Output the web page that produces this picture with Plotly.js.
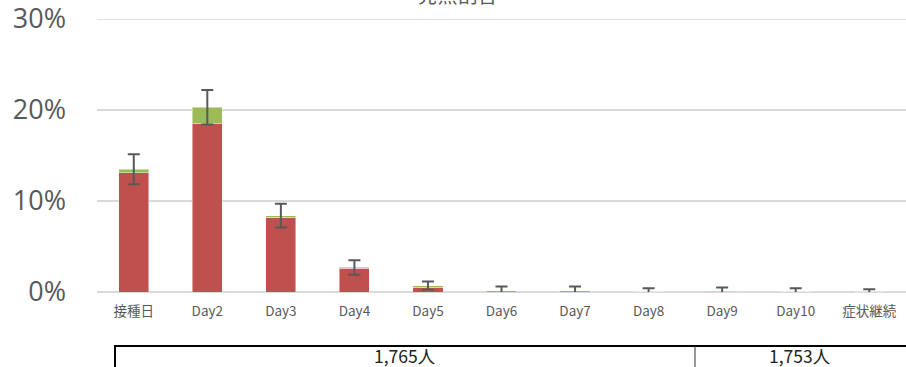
<!DOCTYPE html>
<html><head><meta charset="utf-8">
<script src="https://cdn.plot.ly/plotly-3.0.1.min.js"></script>
<style>html,body{margin:0;padding:0;background:#fff}#c{width:906px;height:367px}</style>
</head><body><div id="c"></div>
<script>
const categories = ["接種日","Day2","Day3","Day4","Day5","Day6","Day7","Day8","Day9","Day10","症状継続"];
const redValues = [0.131, 0.185, 0.082, 0.026, 0.005, 0.000, 0.000, 0.000, 0.001, 0.000, 0.000];
const greenValues = [0.004, 0.018, 0.002, 0.001, 0.002, 0.0015, 0.0015, 0.0005, 0.000, 0.0005, 0.0005];
const errValues = [0.0165, 0.019, 0.013, 0.008, 0.0045, 0.0045, 0.0045, 0.0035, 0.004, 0.0035, 0.0025];
const yTickVals = [0, 0.1, 0.2, 0.3];
const yTickText = ["0%", "10%", "20%", "30%"];
const groupLabels = ["1,765人", "1,753人"];
const titleText = "発熱割合";

const totals = redValues.map((v, i) => v + greenValues[i]);
const plotL = 97, plotR = 906, plotT = 19, plotB = 292;
const px = x => (x - plotL) / (plotR - plotL);
const py = y => (plotB - y) / (plotB - plotT);
const yMax = yTickVals[yTickVals.length - 1];

const traces = [
  {type:"bar", x:categories, y:redValues, marker:{color:"#C0504D", line:{color:"rgba(255,255,255,0.45)", width:1}}, width:0.41, hoverinfo:"skip"},
  {type:"bar", x:categories, y:greenValues, marker:{color:"#9BBB59", line:{color:"rgba(255,255,255,0.45)", width:1}}, width:0.41, hoverinfo:"skip"},
  {type:"scatter", mode:"markers", x:categories, y:totals, marker:{opacity:0, size:1},
   error_y:{type:"data", array:errValues, visible:true, color:"#595959", thickness:2, width:6}, hoverinfo:"skip"}
];

const layout = {
  width:906, height:367,
  margin:{l:plotL, r:906-plotR, t:plotT, b:367-plotB},
  barmode:"stack", showlegend:false,
  paper_bgcolor:"#fff", plot_bgcolor:"#fff",
  title:{text:titleText, font:{family:"Noto Sans CJK JP", size:20, color:"#595959"}, xref:"container", x:0.505, xanchor:"center", yref:"container", y:0.993, yanchor:"bottom"},
  xaxis:{type:"category", range:[-0.5, categories.length - 0.5], autorange:false, showgrid:false, zeroline:false, showline:false, ticks:"",
    automargin:false, ticklabelstandoff:9,
    tickfont:{family:"Noto Sans CJK JP, Noto Sans", size:13.5, color:"#595959"}},
  yaxis:{range:[0, yMax], autorange:false, tickmode:"array", tickvals:yTickVals, ticktext:yTickText,
    showgrid:true, gridcolor:"#d9d9d9", gridwidth:1.5,
    zeroline:true, zerolinecolor:"#d9d9d9", zerolinewidth:2, showline:false, ticks:"",
    automargin:false, ticklabelstandoff:30, ticklabeloverflow:"allow",
    tickfont:{family:"Open Sans, Noto Sans", size:27, color:"#595959"}},
  shapes:[
    {type:"line", layer:"below", xref:"paper", yref:"y", x0:0, x1:1, y0:yMax, y1:yMax, line:{color:"#d9d9d9", width:1.5}},
    {type:"line", xref:"paper", yref:"paper", x0:px(114), x1:px(906), y0:py(346), y1:py(346), line:{color:"#000", width:2}},
    {type:"line", xref:"paper", yref:"paper", x0:px(115), x1:px(115), y0:py(346), y1:py(368), line:{color:"#000", width:2}},
    {type:"line", xref:"paper", yref:"paper", x0:px(695), x1:px(695), y0:py(346), y1:py(368), line:{color:"#333", width:1}}
  ],
  annotations:[
    {xref:"paper", yref:"paper", x:px(405), y:py(355), text:groupLabels[0], showarrow:false, xanchor:"center", yanchor:"middle",
     font:{family:"Noto Sans CJK JP", size:17.5, color:"#222"}},
    {xref:"paper", yref:"paper", x:px(800), y:py(355), text:groupLabels[1], showarrow:false, xanchor:"center", yanchor:"middle",
     font:{family:"Noto Sans CJK JP", size:17.5, color:"#222"}}
  ]
};
Plotly.newPlot("c", traces, layout, {staticPlot:true, displayModeBar:false});
</script></body></html>
